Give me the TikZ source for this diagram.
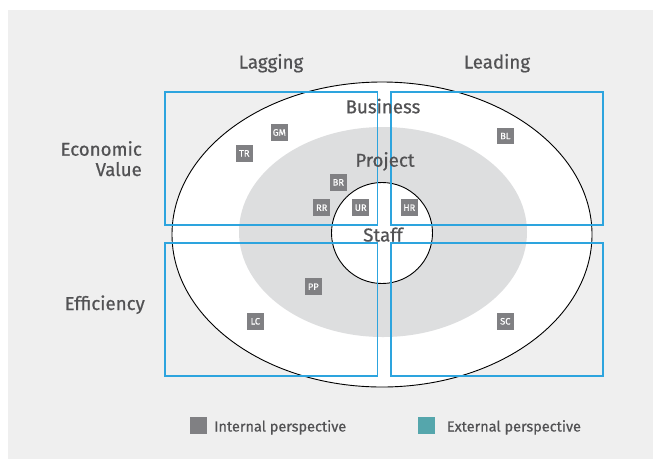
\documentclass[tikz,border=0pt]{standalone}
\usepackage{fontspec}
\setmainfont{Fira Sans}[FakeBold=0.6]
\definecolor{bgc}{RGB}{239,239,239}
\definecolor{projc}{RGB}{221,222,223}
\definecolor{qblue}{RGB}{45,164,222}
\definecolor{tagc}{RGB}{128,128,131}
\definecolor{extc}{RGB}{85,166,172}
\definecolor{txtc}{RGB}{82,82,84}
\begin{document}
\begin{tikzpicture}[x=1pt,y=-1pt,
  tag/.style={fill=tagc, text=white, minimum size=16.5pt, inner sep=0pt, font=\fontsize{9.3}{9.3}\selectfont},
  qbox/.style={draw=qblue, line width=1.6pt},
  ring/.style={draw=black, line width=0.9pt, fill=white},
  head/.style={text=txtc, inner sep=0pt, font=\fontsize{18.7}{20}\selectfont},
  legtxt/.style={text=txtc, inner sep=0pt, anchor=base west, font=\fontsize{14.5}{16}\selectfont},
  legsq/.style={minimum size=16.7pt, inner sep=0pt}]
\useasboundingbox (0,0) rectangle (653,459);
\fill[white] (0,0) rectangle (653,459);
\fill[bgc] (8,10) rectangle (653,459);
% rings
\draw[ring] (382,234.5) ellipse [x radius=210pt, y radius=152.5pt];
\fill[projc] (383,232) ellipse [x radius=144pt, y radius=105pt];
\draw[ring] (382,233) circle [radius=50.5pt];
% quadrant boxes
\draw[qbox] (164.7,91.7) rectangle (377.3,225);
\draw[qbox] (390.7,91.7) rectangle (602.7,225);
\draw[qbox] (164.7,242.7) rectangle (377.3,376);
\draw[qbox] (390.7,242.7) rectangle (602.7,376);
% tags
\node[tag] (gm) at (279.3,132.5) {GM};
\node[tag] (tr) at (244.3,153.3) {TR};
\node[tag] (br) at (338.3,182.3) {BR};
\node[tag] (rr) at (321.7,207.7) {RR};
\node[tag] (ur) at (360.7,207.7) {UR};
\node[tag] (hr) at (409.3,207.7) {HR};
\node[tag] (bl) at (505.3,136) {BL};
\node[tag] (pp) at (313.3,286.7) {PP};
\node[tag] (lc) at (255.3,321.3) {LC};
\node[tag] (sc) at (505.3,321.3) {SC};
% headings
\node[head, anchor=base] (lag) at (271,68.5) {Lagging};
\node[head, anchor=base] (lead) at (497,68.5) {Leading};
\node[head, anchor=base] (biz) at (383,113.3) {Business};
\node[head, anchor=base] (proj) at (385,166.7) {Project};
\node[head, anchor=base] (staff) at (383,241.5) {Staff};
\node[head, anchor=base east] (econ) at (142,155.7) {Economic};
\node[head, anchor=base east] (val) at (142,176) {Value};
\node[head, anchor=base east] (eff) at (145,310) {Efficiency};
% legend
\node[legsq, fill=tagc] (lgi) at (198.3,425.2) {};
\node[legtxt] (lgit) at (214,431.5) {Internal perspective};
\node[legsq, fill=extc] (lge) at (426.5,425.2) {};
\node[legtxt] (lget) at (446.7,431.5) {External perspective};
\end{tikzpicture}
\end{document}
